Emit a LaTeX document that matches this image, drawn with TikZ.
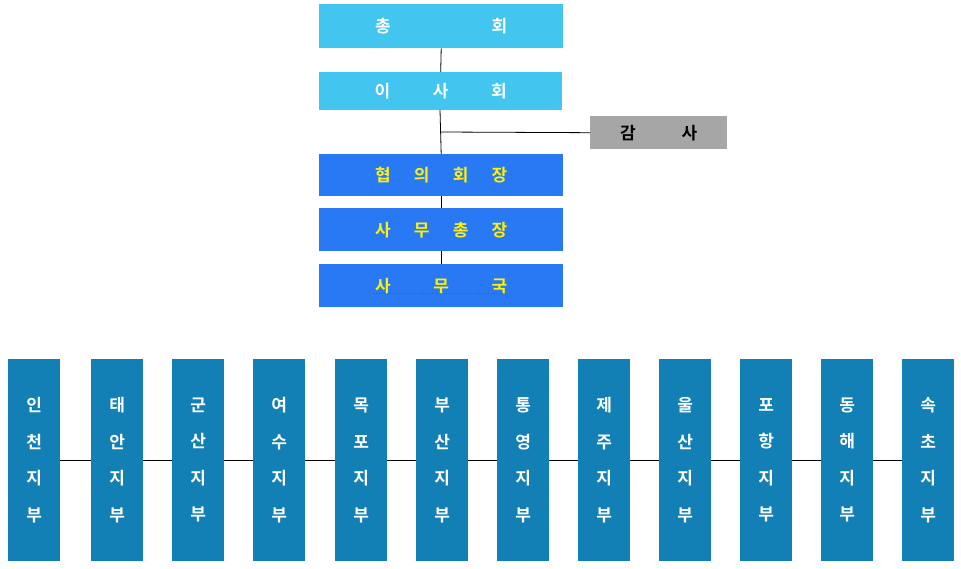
\documentclass[tikz,border=0pt]{standalone}
\usepackage{fontspec}
\newfontfamily\kr{Noto Sans CJK KR}[BoldFont={* Bold}]
\begin{document}
\begin{tikzpicture}[x=1pt,y=-1pt]
\definecolor{sky}{HTML}{42C6F0}
\definecolor{royal}{HTML}{2979F5}
\definecolor{teal}{HTML}{1380B5}
\definecolor{grayb}{HTML}{A6A6A6}
\tikzset{
 bx/.style={draw=none,inner sep=0pt,anchor=north west,font=\kr\bfseries\fontsize{17}{17}\selectfont},
 ln/.style={draw=black,line width=0.8pt}
}
\useasboundingbox (0,0) rectangle (961,569);
\newcommand\spread[2]{\makebox[#1pt]{#2}}
\node[bx,fill=sky,text=white,minimum width=244,minimum height=44] (a) at (319,4) {\spread{132}{총\hfill 회}};
\node[bx,fill=sky,text=white,minimum width=243,minimum height=38] (b) at (319,72) {\spread{132}{이\hfill 사\hfill 회}};
\node[bx,fill=grayb,text=black,minimum width=137,minimum height=33] (g) at (590,116) {\spread{77}{감\hfill 사}};
\node[bx,fill=royal,text=yellow,minimum width=244,minimum height=42] (c) at (319,154) {\spread{132}{협\hfill 의\hfill 회\hfill 장}};
\node[bx,fill=royal,text=yellow,minimum width=244,minimum height=43] (d) at (319,208) {\spread{132}{사\hfill 무\hfill 총\hfill 장}};
\node[bx,fill=royal,text=yellow,minimum width=244,minimum height=43] (e) at (319,264) {\spread{132}{사\hfill 무\hfill 국}};
\draw[red!80!orange,dotted,line width=0.8pt] (373,293) -- (507,293);
\coordinate (j) at (440,132);
\draw[ln] (a.south) -- (b.north);
\draw[ln] (440,110) -- (c.north);
\draw[ln] (j) -- (g.west);
\draw[ln] (c.south) -- (d.north);
\draw[ln] (d.south) -- (e.north);
\foreach \i/\x/\t in {1/8/{인\\천\\지\\부},2/91/{태\\안\\지\\부},3/172/{군\\산\\지\\부},4/253/{여\\수\\지\\부},5/335/{목\\포\\지\\부},6/416/{부\\산\\지\\부},7/497/{통\\영\\지\\부},8/578/{제\\주\\지\\부},9/659/{울\\산\\지\\부},10/740/{포\\항\\지\\부},11/821/{동\\해\\지\\부},12/902/{속\\초\\지\\부}}
 \node[bx,fill=teal,text=white,minimum width=52,minimum height=202,align=center,font=\kr\bfseries\fontsize{17}{36.5}\selectfont] (s\i) at (\x,359) {\t};
\foreach \i [evaluate=\i as \n using int(\i+1)] in {1,...,11}
 \draw[ln] (s\i.east) -- (s\n.west);
\end{tikzpicture}
\end{document}
